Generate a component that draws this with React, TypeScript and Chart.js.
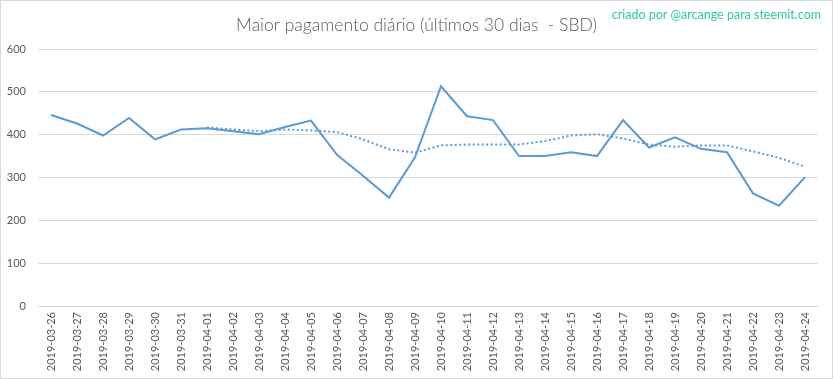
import React, { useEffect, useRef } from "react";
import { Chart, registerables } from "chart.js";

Chart.register(...registerables);

const labels = [
  "2019-03-26", "2019-03-27", "2019-03-28", "2019-03-29", "2019-03-30", "2019-03-31",
  "2019-04-01", "2019-04-02", "2019-04-03", "2019-04-04", "2019-04-05", "2019-04-06",
  "2019-04-07", "2019-04-08", "2019-04-09", "2019-04-10", "2019-04-11", "2019-04-12",
  "2019-04-13", "2019-04-14", "2019-04-15", "2019-04-16", "2019-04-17", "2019-04-18",
  "2019-04-19", "2019-04-20", "2019-04-21", "2019-04-22", "2019-04-23", "2019-04-24",
];

const payouts = [
  446, 426, 398, 439, 389, 412, 415, 408, 401, 418, 433, 353,
  304, 253, 347, 513, 443, 434, 350, 350, 359, 350, 434, 370,
  394, 367, 359, 263, 234, 301,
];

const movingAvg = [
  null, null, null, null, null, null, 417, 412, 408, 412, 410, 406,
  389, 366, 358, 375, 377, 377, 377, 385, 398, 401, 391, 377,
  372, 375, 375, 361, 346, 325,
];

const yTicks = [0, 100, 200, 300, 400, 500, 600];

const titleText = "Maior pagamento diário (últimos 30 dias  - SBD)";
const watermarkText = "criado por @arcange para steemit.com";

const W = 833;
const H = 379;

const decorPlugin = {
  id: "decor",
  beforeDraw(chart: any) {
    const ctx = chart.ctx;
    ctx.save();
    ctx.fillStyle = "#ffffff";
    ctx.fillRect(0, 0, W, H);
    ctx.restore();
  },
  afterDraw(chart: any) {
    const ctx = chart.ctx;
    ctx.save();
    ctx.strokeStyle = "#d9d9d9";
    ctx.lineWidth = 1;
    ctx.strokeRect(0.5, 0.5, W - 1, H - 1);
    ctx.fillStyle = "#595959";
    ctx.font = "300 17.5px Lato";
    ctx.textAlign = "center";
    ctx.textBaseline = "alphabetic";
    ctx.fillText(titleText, 416.5, 31);
    ctx.fillStyle = "#2cc9a2";
    ctx.font = "12.5px Lato";
    ctx.textAlign = "right";
    ctx.fillText(watermarkText, 821, 19);
    ctx.restore();
  },
};

export default function App() {
  const ref = useRef<HTMLCanvasElement | null>(null);

  useEffect(() => {
    document.body.style.margin = "0";
    const canvas = ref.current;
    if (!canvas) return;
    const chart = new Chart(canvas, {
      type: "line",
      data: {
        labels,
        datasets: [
          {
            label: "Pagamento",
            data: payouts,
            borderColor: "#5b9bd5",
            borderWidth: 2,
            pointRadius: 0,
            tension: 0,
            fill: false,
          },
          {
            label: "Média móvel",
            data: movingAvg,
            borderColor: "#5b9bd5",
            borderWidth: 2,
            borderDash: [2, 2.5],
            pointRadius: 0,
            tension: 0,
            fill: false,
            spanGaps: false,
          },
        ],
      },
      options: {
        animation: false,
        responsive: false,
        devicePixelRatio: 1,
        layout: { padding: { top: 49, left: 0, right: 15, bottom: 0 } },
        plugins: {
          legend: { display: false },
          title: { display: false },
          tooltip: { enabled: false },
        },
        scales: {
          x: {
            offset: true,
            grid: { display: false, drawTicks: false },
            border: { display: true, color: "#d9d9d9", width: 1 },
            ticks: {
              autoSkip: false,
              maxRotation: 90,
              minRotation: 90,
              padding: 6,
              color: "#595959",
              font: { family: "Lato", size: 11 },
            },
            afterFit(scale: any) {
              scale.height = 73;
            },
          },
          y: {
            min: 0,
            max: 600,
            grid: { color: "#d9d9d9", drawTicks: false },
            border: { display: false },
            afterBuildTicks(scale: any) {
              scale.ticks = yTicks.map((v) => ({ value: v }));
            },
            ticks: {
              padding: 12,
              color: "#595959",
              font: { family: "Lato", size: 11 },
            },
            afterFit(scale: any) {
              scale.width = 38;
            },
          },
        },
      },
      plugins: [decorPlugin],
    });
    return () => chart.destroy();
  }, []);

  return (
    <div style={{ position: "absolute", left: 0, top: 0, width: W, height: H }}>
      <canvas ref={ref} width={W} height={H} style={{ width: W, height: H, display: "block" }} />
    </div>
  );
}
